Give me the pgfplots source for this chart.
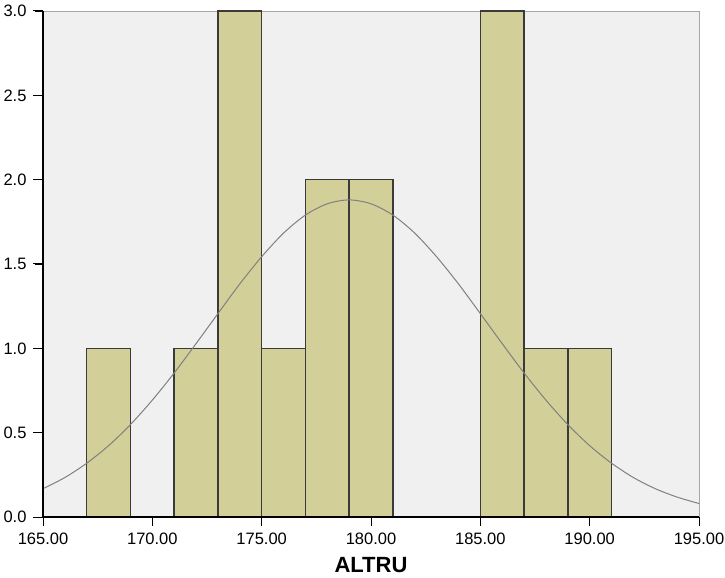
\documentclass[border=0pt]{standalone}
\usepackage{pgfplots}
\pgfplotsset{compat=1.18}
\usetikzlibrary{calc}
\usepackage{fontspec}
\setmainfont{Liberation Sans}
\definecolor{bg}{HTML}{F0F0F0}
\definecolor{barfill}{HTML}{D3CF99}
\definecolor{baredge}{HTML}{3A3A3A}
\begin{document}
\begin{tikzpicture}
\begin{axis}[
  scale only axis,
  width=656bp, height=506bp,
  xmin=165, xmax=195, ymin=0, ymax=3,
  xtick={165,170,...,195},
  ytick={0,0.5,...,3},
  tick align=outside,
  tick pos=left,
  tickwidth=8bp,
  tick style={draw=black, line width=0.9bp},
  axis background/.style={fill=bg},
  axis line style={draw=gray!70, line width=0.8bp},
  /pgf/number format/assume math mode=true,
  ticklabel style={font=\fontsize{16.5bp}{19bp}\selectfont},
  xticklabel style={yshift=-4bp, /pgf/number format/.cd, fixed, fixed zerofill, precision=2},
  yticklabel style={xshift=-5bp, /pgf/number format/.cd, fixed, fixed zerofill, precision=1},
  xlabel={\textbf{ALTRU}},
  xlabel style={font=\fontsize{22bp}{26bp}\selectfont, yshift=-6bp},
  clip=false,
]
\addplot[ybar, bar width=2, bar shift=0pt, fill=barfill, draw=baredge, line width=1.4bp]
  coordinates {(168,1) (172,1) (174,3) (176,1) (178,2) (180,2) (186,3) (188,1) (190,1)};
\addplot[gray, line width=1bp, smooth] coordinates {
(165,0.168) (166,0.234) (167,0.319) (168,0.423) (169,0.548) (170,0.693)
(171,0.854) (172,1.028) (173,1.206) (174,1.382) (175,1.543) (176,1.683)
(177,1.790) (178,1.857) (179,1.880) (180,1.857) (181,1.790) (182,1.683)
(183,1.543) (184,1.382) (185,1.206) (186,1.028) (187,0.854) (188,0.693)
(189,0.548) (190,0.423) (191,0.319) (192,0.234) (193,0.168) (194,0.118) (195,0.080)};
\draw[black, line width=1.6bp] (rel axis cs:0,1) -- (rel axis cs:0,0) -- (rel axis cs:1,0);
\end{axis}
\foreach \i in {0,...,6}{
  \draw[black, line width=1bp] ($(current axis.south west)!\i/6!(current axis.south east)$) -- ++(0,-9bp);
  \draw[black, line width=1bp] ($(current axis.south west)!\i/6!(current axis.north west)$) -- ++(-10bp,0);
}
\pgfresetboundingbox
\path ([shift={(-43bp,-61bp)}]current axis.south west) rectangle ([shift={(26bp,11bp)}]current axis.north east);
\end{tikzpicture}
\end{document}
